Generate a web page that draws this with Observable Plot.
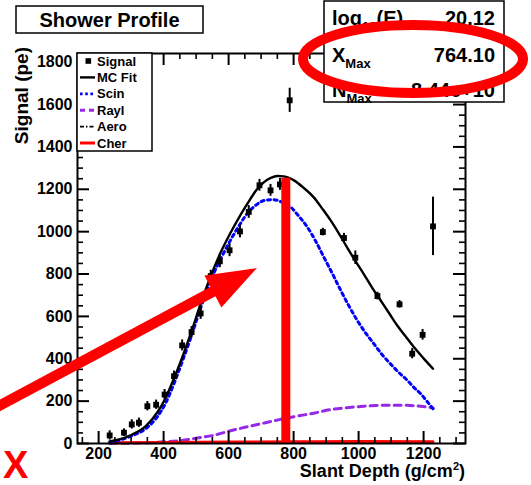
<!DOCTYPE html>
<html>
<head>
<meta charset="utf-8">
<script src="https://cdn.jsdelivr.net/npm/d3@7"></script>
<script src="https://cdn.jsdelivr.net/npm/@observablehq/plot@0.6"></script>
<style>
  html, body { margin: 0; padding: 0; background: #fff; }
  #chart svg { display: block; }
</style>
</head>
<body>
<div id="chart"></div>
<script>
// Measured signal per slant-depth bin
const depth  = [234, 278, 302, 324, 350, 377, 403, 432, 457, 486, 514, 545, 573, 603, 635, 662, 695, 729, 758, 788, 890, 955, 990, 1058, 1126, 1165, 1197, 1229];
const signal = [38, 51, 90, 98, 176, 183, 231, 318, 463, 526, 614, 790, 860, 912, 1001, 1093, 1219, 1195, 1223, 1620, 998, 970, 877, 696, 657, 424, 513, 1025];
const sigErr = [22, 18, 22, 22, 22, 22, 24, 24, 26, 26, 28, 28, 30, 30, 30, 30, 28, 28, 28, 57, 18, 22, 32, 18, 18, 24, 25, 138];

// Monte Carlo fit and its light components
const fitDepth = [234, 260, 300, 345, 380, 406, 430, 457, 486, 514, 545, 575, 606, 635, 657, 685, 709, 730, 750, 770, 801, 830, 862, 890, 914, 940, 965, 990, 1016, 1042, 1068, 1094, 1119, 1145, 1170, 1200, 1229];
const fitTotal = [10, 18, 40, 82, 145, 215, 300, 405, 530, 660, 790, 900, 995, 1075, 1130, 1195, 1234, 1254, 1263, 1261, 1242, 1208, 1162, 1105, 1053, 990, 925, 862, 800, 735, 675, 615, 557, 505, 455, 402, 353];

const scinDepth = [234, 260, 300, 345, 380, 406, 430, 457, 486, 514, 545, 575, 606, 635, 657, 680, 698, 720, 739, 760, 791, 815, 842, 868, 893, 920, 945, 970, 996, 1020, 1047, 1072, 1098, 1124, 1150, 1170, 1191, 1210, 1229];
const scinSig   = [5, 14, 35, 70, 125, 190, 275, 385, 510, 640, 770, 870, 960, 1035, 1085, 1120, 1140, 1150, 1151, 1142, 1116, 1075, 1022, 955, 880, 800, 723, 650, 581, 525, 471, 420, 376, 335, 298, 265, 235, 200, 164];

const raylDepth = [234, 300, 350, 400, 452, 500, 555, 606, 657, 710, 760, 810, 862, 914, 965, 1016, 1068, 1110, 1150, 1190, 1229];
const raylSig   = [0, 2, 4, 8, 14, 25, 39, 60, 79, 97, 114, 129, 143, 160, 169, 176, 180, 181, 180, 176, 168];

const lowDepth = [234, 400, 600, 800, 1000, 1229];
const aeroSig  = [1, 2, 3, 4, 5, 5];
const cherSig  = [4, 5, 7, 8, 9, 8];

// Highlighted depth of maximum
const cutDepth = [776];
const cutTop = 1252;

// Axis ticks
const xTicks = [200, 400, 600, 800, 1000, 1200];
const yTicks = [0, 200, 400, 600, 800, 1000, 1200, 1400, 1600, 1800];
const xMinor = d3.range(150, 1329, 50).filter(v => !xTicks.includes(v));
const yMinor = d3.range(50, 1841, 50).filter(v => !yTicks.includes(v));

// Shower parameters box
const statNames  = ["log", "X", "N"];
const statSubs   = ["10", "Max", "Max"];
const statSuffix = ["(E)", "", ""];
const statValues = ["20.12", "764.10", "8.44e+10"];

const pts = depth.map((d, i) => ({d, s: signal[i], e: sigErr[i]}));
const fit = fitDepth.map((d, i) => ({d, s: fitTotal[i]}));
const scin = scinDepth.map((d, i) => ({d, s: scinSig[i]}));
const rayl = raylDepth.map((d, i) => ({d, s: raylSig[i]}));
const aero = lowDepth.map((d, i) => ({d, s: aeroSig[i]}));
const cher = lowDepth.map((d, i) => ({d, s: cherSig[i]}));

const W = 531, H = 485;
const mT = 53, mR = 66, mB = 42, mL = 77;
const fW = W - mL - mR, fH = H - mT - mB;
const FONT = "'Liberation Sans', Arial, Helvetica, sans-serif";

const chart = Plot.plot({
  width: W, height: H,
  marginTop: mT, marginRight: mR, marginBottom: mB, marginLeft: mL,
  x: {domain: [135, 1329]},
  y: {domain: [0, 1841]},
  style: {fontFamily: FONT, fontWeight: "bold", color: "black", background: "white", overflow: "visible"},
  marks: [
    Plot.line(rayl, {x: "d", y: "s", stroke: "#9628e6", strokeWidth: 3, strokeDasharray: "7,5", curve: "monotone-x"}),
    Plot.line(aero, {x: "d", y: "s", stroke: "black", strokeWidth: 1.5, strokeDasharray: "6,3,1.5,3", curve: "monotone-x"}),
    Plot.line(cher, {x: "d", y: "s", stroke: "#ff0000", strokeWidth: 3, curve: "monotone-x"}),
    Plot.line(scin, {x: "d", y: "s", stroke: "#0000ff", strokeWidth: 3, strokeDasharray: "3,3.6", curve: "monotone-x"}),
    Plot.line(fit, {x: "d", y: "s", stroke: "black", strokeWidth: 2.4, curve: "monotone-x"}),
    Plot.ruleX(pts, {x: "d", y1: d => d.s - d.e, y2: d => d.s + d.e, stroke: "black", strokeWidth: 2}),
    Plot.dot(pts, {x: "d", y: "s", symbol: "square", r: 3.3, fill: "black", stroke: "none"}),
    Plot.ruleX(cutDepth, {x: d => d, y1: 0, y2: cutTop, stroke: "#ff0000", strokeWidth: 9}),
    // inward tick marks on all four sides
    Plot.tickY(yTicks, {y: d => d, insetRight: fW - 12, stroke: "black", strokeWidth: 2}),
    Plot.tickY(yMinor, {y: d => d, insetRight: fW - 6, stroke: "black", strokeWidth: 1.6}),
    Plot.tickY(yTicks, {y: d => d, insetLeft: fW - 12, stroke: "black", strokeWidth: 2}),
    Plot.tickY(yMinor, {y: d => d, insetLeft: fW - 6, stroke: "black", strokeWidth: 1.6}),
    Plot.tickX(xTicks, {x: d => d, insetTop: fH - 12, stroke: "black", strokeWidth: 2}),
    Plot.tickX(xMinor, {x: d => d, insetTop: fH - 6, stroke: "black", strokeWidth: 1.6}),
    Plot.tickX(xTicks, {x: d => d, insetBottom: fH - 12, stroke: "black", strokeWidth: 2}),
    Plot.tickX(xMinor, {x: d => d, insetBottom: fH - 6, stroke: "black", strokeWidth: 1.6}),
    Plot.frame({stroke: "black", strokeWidth: 2}),
    Plot.axisX({ticks: xTicks, tickFormat: d => String(d), tickSize: 0, tickPadding: 4, fontSize: 16, fontWeight: "bold", label: null, fill: "black"}),
    Plot.axisY({ticks: yTicks, tickFormat: d => String(d), tickSize: 0, tickPadding: 5, fontSize: 16, fontWeight: "bold", label: null, fill: "black"})
  ]
});
document.getElementById("chart").appendChild(chart);

const svg = d3.select(chart);
const g = svg.append("g").attr("font-family", FONT).attr("font-weight", "bold").attr("text-anchor", "start");

// axis titles
g.append("text").attr("transform", "translate(28,47) rotate(-90)")
  .attr("text-anchor", "end").attr("font-size", 19).text("Signal (pe)");
const xt = g.append("text").attr("x", 465).attr("y", 477).attr("text-anchor", "end").attr("font-size", 18);
xt.append("tspan").text("Slant Depth (g/cm");
xt.append("tspan").attr("font-size", 11).attr("dy", -7).text("2");
xt.append("tspan").attr("dy", 7).text(")");

// title box
g.append("rect").attr("x", 16).attr("y", 6).attr("width", 187).attr("height", 27)
  .attr("fill", "white").attr("stroke", "black").attr("stroke-width", 1.5);
g.append("text").attr("x", 109.5).attr("y", 27).attr("text-anchor", "middle")
  .attr("font-size", 20).text("Shower Profile");

// legend
const leg = g.append("g");
leg.append("rect").attr("x", 77).attr("y", 53).attr("width", 75).attr("height", 98)
  .attr("fill", "white").attr("stroke", "black").attr("stroke-width", 1.5);
const entries = [
  {name: "Signal", kind: "square"},
  {name: "MC Fit", stroke: "black", w: 2.4, dash: null},
  {name: "Scin", stroke: "#0000ff", w: 2.8, dash: "2.6,2.6"},
  {name: "Rayl", stroke: "#9628e6", w: 3, dash: "5,4"},
  {name: "Aero", stroke: "black", w: 1.6, dash: "4,2,1.5,2"},
  {name: "Cher", stroke: "#ff0000", w: 3, dash: null}
];
entries.forEach((e, i) => {
  const cy = 61 + i * 16.4;
  if (e.kind === "square") {
    leg.append("rect").attr("x", 85.5).attr("y", cy - 2.8).attr("width", 5.6).attr("height", 5.6).attr("fill", "black");
  } else {
    leg.append("line").attr("x1", 80).attr("x2", 95).attr("y1", cy).attr("y2", cy)
      .attr("stroke", e.stroke).attr("stroke-width", e.w).attr("stroke-dasharray", e.dash);
  }
  leg.append("text").attr("x", 97).attr("y", cy + 4.6).attr("font-size", 13).text(e.name);
});

// shower parameter box
const st = g.append("g");
st.append("rect").attr("x", 324).attr("y", 1).attr("width", 180).attr("height", 101)
  .attr("fill", "white").attr("stroke", "black").attr("stroke-width", 1.5);
const rowY = [25, 62, 97];
statNames.forEach((n, i) => {
  const t = st.append("text").attr("x", 332).attr("y", rowY[i]).attr("font-size", 20);
  t.append("tspan").text(n);
  t.append("tspan").attr("font-size", 13).attr("dy", 6).text(statSubs[i]);
  if (statSuffix[i]) t.append("tspan").attr("dy", -6).attr("font-size", 20).text(statSuffix[i]);
  st.append("text").attr("x", 495).attr("y", rowY[i]).attr("text-anchor", "end")
    .attr("font-size", 20).text(statValues[i]);
});

// red annotations
const ann = g.append("g");
ann.append("ellipse").attr("cx", 413).attr("cy", 59).attr("rx", 110).attr("ry", 34)
  .attr("fill", "none").attr("stroke", "#ff0000").attr("stroke-width", 10);
ann.append("line").attr("x1", -5).attr("y1", 408).attr("x2", 214).attr("y2", 291)
  .attr("stroke", "#ff0000").attr("stroke-width", 10.5);
ann.append("polygon").attr("points", "257,268 204.4,275.6 221.4,307.4").attr("fill", "#ff0000");
ann.append("text").attr("x", 3).attr("y", 478).attr("font-size", 38).attr("fill", "#ff0000").text("X");
</script>
</body>
</html>
